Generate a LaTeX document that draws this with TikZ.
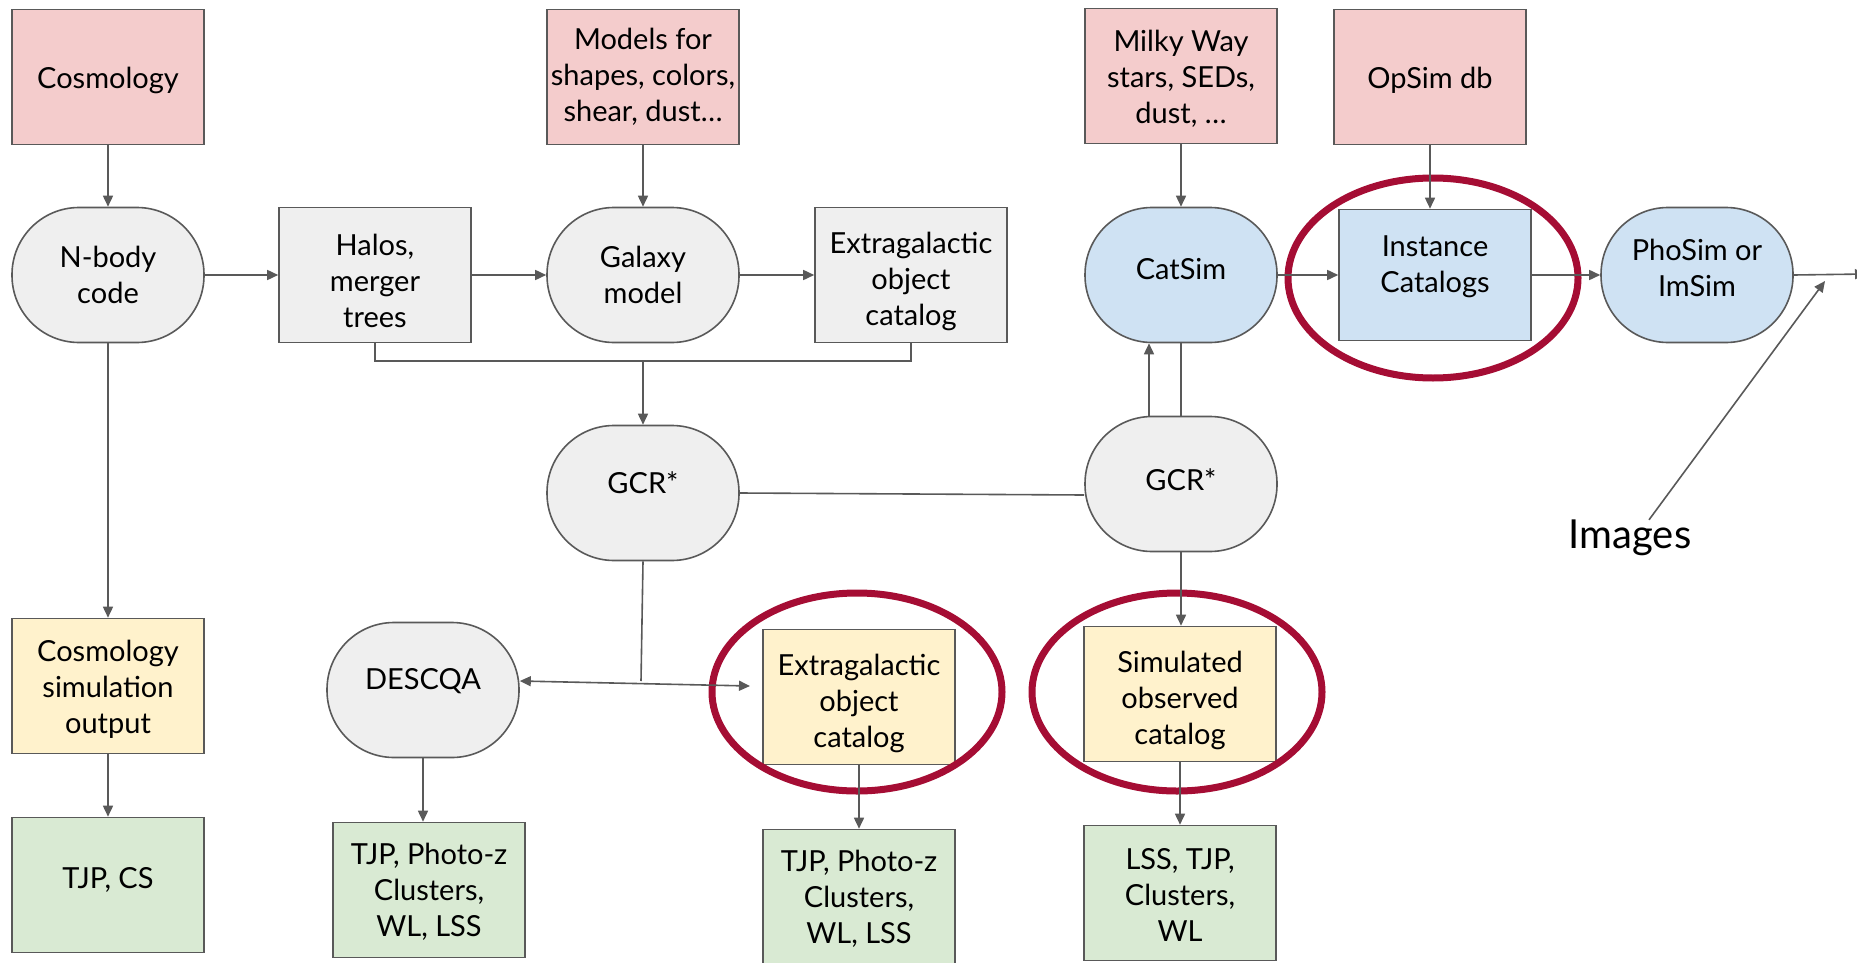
\documentclass[tikz,border=0pt]{standalone}
\usepackage{fontspec}
\setmainfont{Lato}
\usetikzlibrary{arrows.meta,calc}
\definecolor{pinkf}{HTML}{F4CCCC}
\definecolor{grayf}{HTML}{EFEFEF}
\definecolor{bluef}{HTML}{CFE2F3}
\definecolor{yellf}{HTML}{FFF2CC}
\definecolor{greenf}{HTML}{D9EAD3}
\definecolor{edgec}{HTML}{595959}
\definecolor{ringc}{HTML}{A50D34}
\tikzset{
  base/.style={draw=edgec, line width=1.6pt, minimum width=192pt, minimum height=135pt, inner sep=0pt, align=center, text=black, font=\fontsize{29}{36}\selectfont},
  sqbox/.style={base, rectangle},
  rdbox/.style={base, rectangle, rounded corners=67pt},
  txt/.style={align=center, inner sep=0pt, text=black, font=\fontsize{29}{36}\selectfont},
  conn/.style={draw=edgec, line width=1.6pt},
  arr/.style={conn, -{Triangle[length=11pt,width=10pt]}},
  darr/.style={conn, {Triangle[length=11pt,width=10pt]}-{Triangle[length=11pt,width=10pt]}},
  ring/.style={draw=ringc, line width=7pt},
}
\begin{document}
\begin{tikzpicture}[x=1pt,y=-1pt]
\useasboundingbox (0,0) rectangle (1857,963);
\clip (0,0) rectangle (1857,963);
% row 1
\node[sqbox, fill=pinkf, label={[txt,yshift=-3pt]center:{Cosmology}}] (cosmo) at (108,77) {};
\node[sqbox, fill=pinkf] (models) at (643,77) {Models for\\shapes, colors,\\shear, dust…};
\node[sqbox, fill=pinkf, label={[txt,yshift=-3pt]center:{Milky Way\\stars, SEDs,\\dust, …}}] (milky) at (1181,76) {};
\node[sqbox, fill=pinkf, label={[txt,yshift=-3pt]center:{OpSim db}}] (opsim) at (1430,77) {};
% row 2
\node[rdbox, fill=grayf] (nbody) at (108,275) {N-body\\code};
\node[sqbox, fill=grayf, label={[txt,yshift=-6pt]center:{Halos,\\merger\\trees}}] (halos) at (375,275) {};
\node[rdbox, fill=grayf] (galaxy) at (643,275) {Galaxy\\model};
\node[sqbox, fill=grayf, label={[txt,yshift=-6pt]center:{Extragalactic\\object\\catalog}}] (extg) at (911,275) {};
\node[rdbox, fill=bluef, label={[txt,yshift=6pt]center:{CatSim}}] (catsim) at (1181,275) {};
\node[sqbox, fill=bluef, minimum height=131pt, label={[txt,yshift=8pt]center:{Instance\\Catalogs}}] (inst) at (1435,275) {};
\node[rdbox, fill=bluef, label={[txt,yshift=7pt]center:{PhoSim or\\ImSim}}] (phosim) at (1697,275) {};
% row 3
\node[rdbox, fill=grayf, label={[txt,yshift=10pt]center:{GCR*}}] (gcrL) at (643,493) {};
\node[rdbox, fill=grayf, label={[txt,yshift=4pt]center:{GCR*}}] (gcrR) at (1181,484) {};
\node[txt, font=\fontsize{40}{46}\selectfont] (images) at (1630,538) {Images};
% row 4
\node[sqbox, fill=yellf, label={[txt,yshift=-3pt]center:{Cosmology\\simulation\\output}}] (cso) at (108,686) {};
\node[rdbox, fill=grayf, label={[txt,yshift=9pt]center:{DESCQA}}] (descqa) at (423,690) {};
\node[sqbox, fill=yellf, label={[txt,yshift=-6pt]center:{Extragalactic\\object\\catalog}}] (extc) at (859,697) {};
\node[sqbox, fill=yellf, label={[txt,yshift=-6pt]center:{Simulated\\observed\\catalog}}] (simobs) at (1180,694) {};
% row 5
\node[sqbox, fill=greenf, label={[txt,yshift=5pt]center:{TJP, CS}}] (tjpcs) at (108,885) {};
\node[sqbox, fill=greenf, label={[txt,yshift=-2pt]center:{TJP, Photo-z\\Clusters,\\WL, LSS}}] (tjpL) at (429,890) {};
\node[sqbox, fill=greenf, label={[txt,yshift=-2pt]center:{TJP, Photo-z\\Clusters,\\WL, LSS}}] (tjpM) at (859,897) {};
\node[sqbox, fill=greenf, label={[txt,yshift=-2pt]center:{LSS, TJP,\\Clusters,\\WL}}] (lss) at (1180,893) {};
% red rings
\draw[ring] (1433,278) ellipse [x radius=145, y radius=100];
\draw[ring] (857,692) ellipse [x radius=145, y radius=99];
\draw[ring] (1177,692) ellipse [x radius=145, y radius=99];
% coordinates
\coordinate (merge) at (643,361);
\coordinate (junc) at (641,681);
\coordinate (extcin) at (750,686);
\coordinate (rightend) at (1866,274);
\coordinate (imgtip) at (1825,281);
% connectors
\draw[arr] (cosmo) -- (nbody);
\draw[arr] (nbody) -- (halos);
\draw[arr] (halos) -- (galaxy);
\draw[arr] (models) -- (galaxy);
\draw[arr] (galaxy) -- (extg);
\draw[arr] (milky) -- (catsim);
\draw[arr] (opsim.south) -- (opsim.south |- inst.north);
\draw[arr] (catsim) -- (inst);
\draw[arr] (inst) -- (phosim);
\draw[arr] (phosim.east) -- (rightend);
\draw[arr] (nbody) -- (cso);
\draw[arr] (cso) -- (tjpcs);
\draw[conn] (halos.south) |- (merge) -| (extg.south);
\draw[arr] (merge) -- (gcrL);
\draw[conn] (gcrL.east) -- ($(gcrR.west)+(0,11)$);
\draw[conn] (gcrL.south) -- (junc);
\draw[darr] ($(descqa.east)+(0,-9)$) -- (extcin);
\draw[arr] (descqa.south) -- (descqa.south |- tjpL.north);
\draw[arr] (extc.south) -- (tjpM.north);
\draw[arr] (gcrR.south) -- (gcrR.south |- simobs.north);
\draw[arr] (simobs) -- (lss);
\draw[arr] ([xshift=-32pt]gcrR.north) -- ([xshift=-32pt]catsim.south);
\draw[conn] (catsim.south) -- (gcrR.north);
\draw[arr] (images.north) ++(19pt,0) coordinate (imgbase) -- (imgtip);
\end{tikzpicture}
\end{document}
